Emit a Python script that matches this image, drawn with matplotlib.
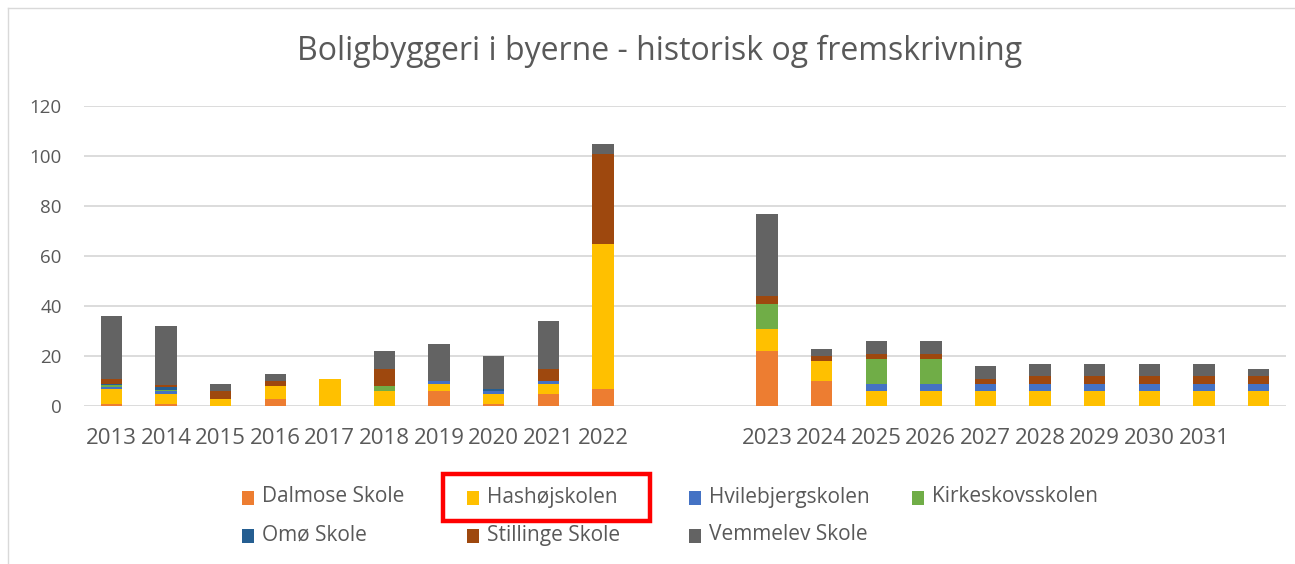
import matplotlib
matplotlib.use("Agg")
import matplotlib.pyplot as plt
from matplotlib.patches import Rectangle
import numpy as np

plt.rcParams["font.family"] = ["Open Sans", "DejaVu Sans"]

# Categories (empty labels are the gaps in the original chart)
years = ["2013", "2014", "2015", "2016", "2017", "2018", "2019", "2020", "2021", "2022",
         "", "",
         "2023", "2024", "2025", "2026", "2027", "2028", "2029", "2030", "2031", ""]

schools = ["Dalmose Skole", "Hashøjskolen", "Hvilebjergskolen", "Kirkeskovsskolen",
           "Omø Skole", "Stillinge Skole", "Vemmelev Skole"]

dalmose =    [1, 1, 0, 3, 0, 0, 6, 1, 5, 7,    0, 0,  22, 10, 0, 0, 0, 0, 0, 0, 0, 0]
hashoj =     [6, 4, 3, 5, 11, 6, 3, 4, 4, 58,  0, 0,  9, 8, 6, 6, 6, 6, 6, 6, 6, 6]
hvilebjerg = [0.5, 1, 0, 0, 0, 0, 1, 1, 1, 0,  0, 0,  0, 0, 3, 3, 3, 3, 3, 3, 3, 3]
kirkeskov =  [1, 0.5, 0, 0, 0, 2, 0, 0, 0, 0,  0, 0,  10, 0, 10, 10, 0, 0, 0, 0, 0, 0]
omo =        [0.5, 1, 0, 0, 0, 0, 0, 1, 0, 0,  0, 0,  0, 0, 0, 0, 0, 0, 0, 0, 0, 0]
stillinge =  [2, 1, 3, 2, 0, 7, 0, 0, 5, 36,   0, 0,  3, 2, 2, 2, 2, 3, 3, 3, 3, 3]
vemmelev =   [25, 23.5, 3, 3, 0, 7, 15, 13, 19, 4,  0, 0,  33, 3, 5, 5, 5, 5, 5, 5, 5, 3]

series = [dalmose, hashoj, hvilebjerg, kirkeskov, omo, stillinge, vemmelev]
colors = ["#ED7D31", "#FFC000", "#4472C4", "#70AD47", "#255E91", "#9E480E", "#636363"]

W, H = 1295, 564
fig = plt.figure(figsize=(W / 100, H / 100), dpi=100)
ax = fig.add_axes([84 / W, (H - 406) / H, (1286 - 84) / W, 300 / H])

text_color = "#595959"
x = np.arange(len(years))
bottom = np.zeros(len(years))
for name, vals, col in zip(schools, series, colors):
    vals = np.array(vals, dtype=float)
    ax.bar(x, vals, 0.39, bottom=bottom, color=col, zorder=3, label=name)
    bottom += vals

ax.set_xlim(-0.5, len(years) - 0.5)
ax.set_ylim(0, 120)
ax.set_yticks(np.arange(0, 121, 20))
ax.set_xticks(x)
ax.set_xticklabels(years)
ax.grid(axis="y", color="#D9D9D9", linewidth=1.3, zorder=0)
ax.set_axisbelow(True)
for s in ax.spines.values():
    s.set_visible(False)
ax.tick_params(axis="both", length=0, colors=text_color)
ax.tick_params(axis="y", pad=16, labelsize=13.5)
ax.tick_params(axis="x", pad=16, labelsize=16)

fig.text(660 / W, 1 - 51 / H, "Boligbyggeri i byerne - historisk og fremskrivning",
         ha="center", va="center", fontsize=23, color=text_color)

# legend laid out like Excel: 4 equal columns, filled row by row
col_x = [242, 467, 689, 912]
row_y = [498, 536]
for i, (name, col) in enumerate(zip(schools, colors)):
    cx = col_x[i % 4]
    cy = row_y[i // 4]
    fig.patches.append(Rectangle((cx / W, 1 - (cy + 7) / H), 12 / W, 14 / H,
                                 transform=fig.transFigure, facecolor=col,
                                 edgecolor="none"))
    fig.text((cx + 20) / W, 1 - (cy - 1) / H, name, ha="left", va="center",
             fontsize=15, color=text_color)

# red highlight box around "Hashøjskolen"
fig.patches.append(Rectangle((443 / W, 1 - 521 / H), (650 - 443) / W, (521 - 474) / H,
                             transform=fig.transFigure, fill=False,
                             edgecolor="#FF0000", linewidth=3.2))

# chart area border (left and top)
fig.add_artist(plt.Line2D([8 / W, 8 / W], [0, 1 - 8 / H], transform=fig.transFigure,
                          color="#D9D9D9", linewidth=1))
fig.add_artist(plt.Line2D([8 / W, 1], [1 - 8 / H, 1 - 8 / H], transform=fig.transFigure,
                          color="#D9D9D9", linewidth=1))

fig.savefig("out.png", dpi=100)
